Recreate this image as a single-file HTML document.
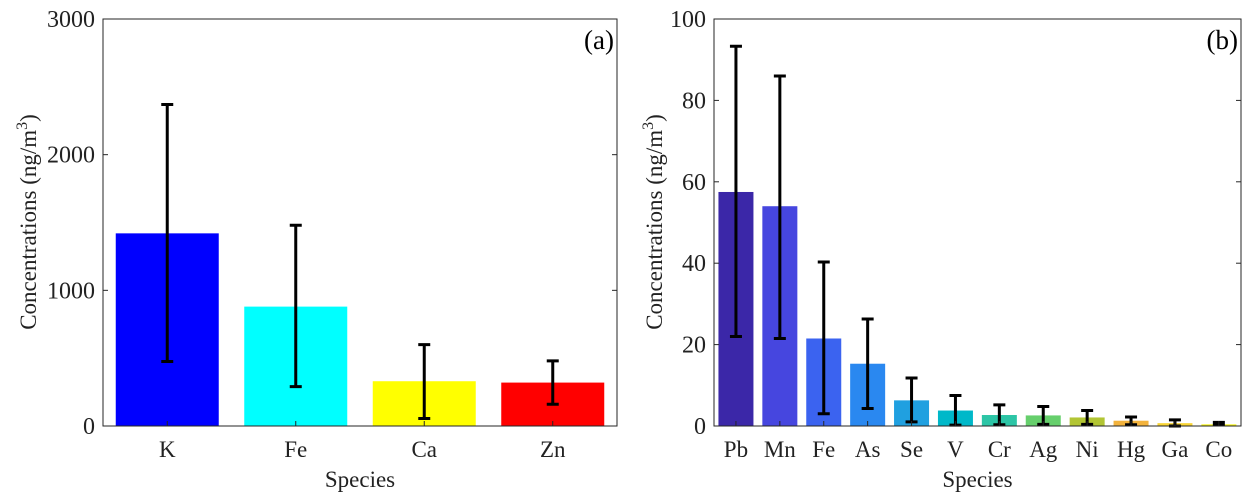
<!DOCTYPE html>
<html><head><meta charset="utf-8"><style>
body{margin:0;background:#fff}
svg{display:block;font-family:"Liberation Serif",serif}
</style></head><body>
<svg id="s" width="1255" height="501"></svg>
<script>
const catsA=["K","Fe","Ca","Zn"];
const valsA=[1420,880,330,320];
const hiA=[2370,1480,600,480];
const loA=[475,290,55,160];
const colA=["#0000ff","#00ffff","#ffff00","#ff0000"];
const ticksA=[0,1000,2000,3000];
const catsB=["Pb","Mn","Fe","As","Se","V","Cr","Ag","Ni","Hg","Ga","Co"];
const valsB=[57.5,54,21.5,15.3,6.3,3.8,2.7,2.6,2.1,1.3,0.7,0.4];
const hiB=[93.3,86,40.3,26.3,11.8,7.5,5.2,4.8,3.8,2.2,1.5,0.9];
const loB=[22,21.5,3,4.3,1,0.2,0.3,0.4,0.4,0.3,0,0.4];
const colB=["#3b27a8","#4646df","#3b63f0","#2a88f0","#20a0e0","#00b8c9","#2cc5a6","#66cf6c","#b2c534","#f2b23c","#f9d534","#f8f40e"];
const ticksB=[0,20,40,60,80,100];
const NS="http://www.w3.org/2000/svg";
const svg=document.getElementById('s');
function mk(t,a,txt){const e=document.createElementNS(NS,t);for(const k in a)e.setAttribute(k,a[k]);if(txt!==undefined)e.textContent=txt;svg.appendChild(e);return e;}
function panel(p){
 const y=v=>426-v/p.max*407;
 const x=i=>p.L+p.step*(i+0.5);
 p.cats.forEach((c,i)=>{
  const r=mk('rect',{x:x(i)-p.bw/2,y:y(p.vals[i]),width:p.bw,height:426-y(p.vals[i]),fill:p.col[i]});
  
  
  const g=mk('path',{d:`M${x(i)},${y(p.hi[i])}V${y(p.lo[i])}M${x(i)-p.cap},${y(p.hi[i])}h${2*p.cap}M${x(i)-p.cap},${y(p.lo[i])}h${2*p.cap}`,stroke:'#000','stroke-width':3,fill:'none'});
  
  
  const t=mk('text',{x:x(i),y:457,'text-anchor':'middle','font-size':23,fill:'#222'},c);
  
  
  mk('line',{x1:x(i),x2:x(i),y1:426,y2:421,stroke:'#262626'});
 });
 p.ticks.forEach(v=>{
  mk('line',{x1:p.L,x2:p.L+5,y1:y(v),y2:y(v),stroke:'#262626'});
  mk('line',{x1:p.R,x2:p.R-5,y1:y(v),y2:y(v),stroke:'#262626'});
  const t=mk('text',{x:p.L-8,y:y(v)+8,'text-anchor':'end','font-size':24,fill:'#222'},v);
  
  
 });
 const b=mk('rect',{x:p.L,y:19,width:p.R-p.L,height:407,fill:'none',stroke:'#262626','stroke-width':1});
 
 
 const xt=mk('text',{x:(p.L+p.R)/2,y:487,'text-anchor':'middle','font-size':23,fill:'#222'},'Species');
 
 
 const yt=mk('text',{transform:`translate(${p.L-p.yo},222) rotate(-90)`,'text-anchor':'middle','font-size':23,fill:'#222'});
 yt.innerHTML='Concentrations (ng/m<tspan dy="-9" font-size="16">3</tspan><tspan dy="9">)</tspan>';
 
 
 const pl=mk('text',{x:p.R-3,y:49,'text-anchor':'end','font-size':27,fill:'#000'},p.lab);
 
 
}
panel({cats:catsA,vals:valsA,hi:hiA,lo:loA,col:colA,ticks:ticksA,max:3000,L:103,R:617,step:128.5,bw:103,cap:6,lab:'(a)',yo:67});
panel({cats:catsB,vals:valsB,hi:hiB,lo:loB,col:colB,ticks:ticksB,max:100,L:714,R:1241,step:43.9,bw:35,cap:6,lab:'(b)',yo:52});
</script>
</body></html>
